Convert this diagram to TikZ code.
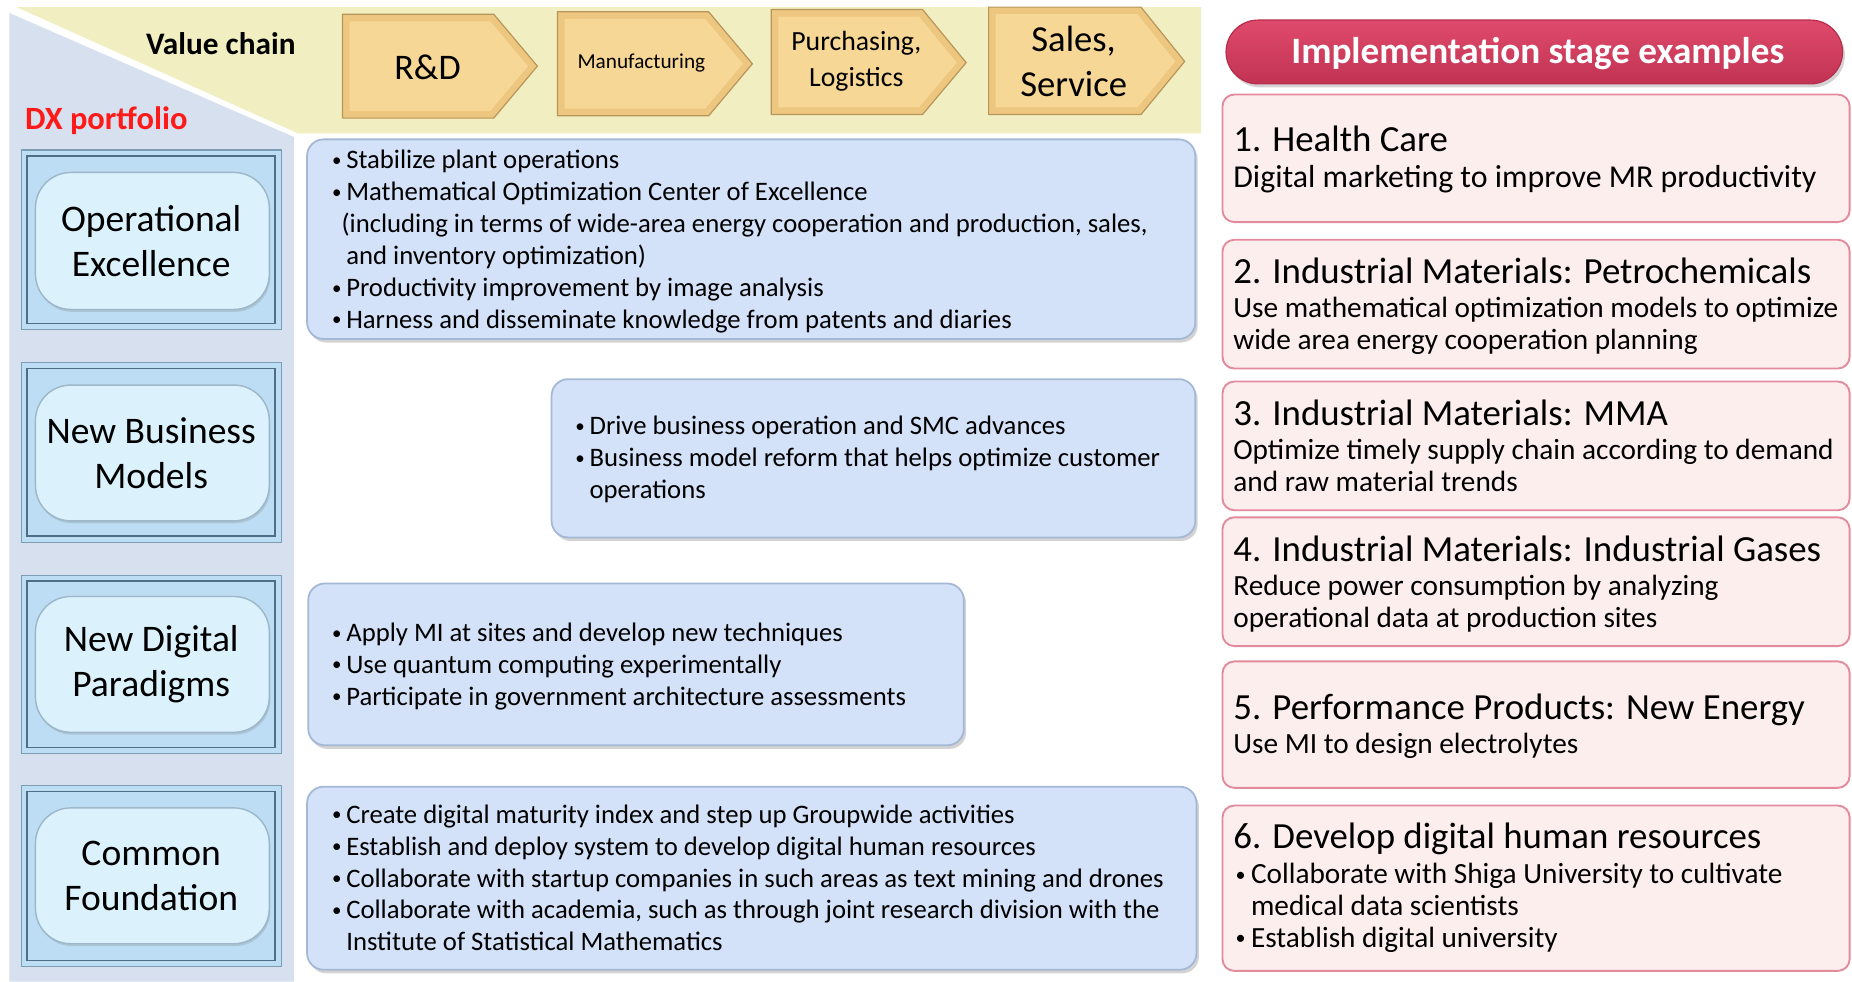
\documentclass[tikz,border=0pt]{standalone}
\usepackage{fontspec}
\setmainfont{Carlito}
\usetikzlibrary{shadows}
\definecolor{bgyellow}{HTML}{F1EEC2}
\definecolor{bgblue}{HTML}{D6E0EE}
\definecolor{tanfill}{HTML}{F7D796}
\definecolor{tanedge}{HTML}{EDC67F}
\definecolor{tanline}{HTML}{B8955A}
\definecolor{framefill}{HTML}{BCDDF4}
\definecolor{frameline}{HTML}{7D9DB5}
\definecolor{framedark}{HTML}{4F6D85}
\definecolor{pillfill}{HTML}{DBF2FD}
\definecolor{pillline}{HTML}{9DB7C9}
\definecolor{boxfill}{HTML}{D3E2F8}
\definecolor{boxline}{HTML}{A4B8D6}
\definecolor{redpill}{HTML}{DC3A5E}
\definecolor{redline}{HTML}{B72C4C}
\definecolor{pinkfill}{HTML}{FDEEEE}
\definecolor{pinkline}{HTML}{E38A9C}
\definecolor{dxred}{HTML}{FF1A1A}
\newcommand\bodyfont{\fontsize{22.6}{27}\selectfont}
\newcommand\rbodyfont{\fontsize{24.8}{27}\selectfont}
\newcommand\titlefont{\fontsize{31.2}{34}\selectfont}
\newcommand\bul{\makebox[12pt][l]{\raisebox{2pt}{\fontsize{16}{16}\selectfont•}}}
\newcommand\Tl[4]{\node[anchor=base west, inner sep=0pt, font=\bodyfont] (#1) at (#2,#3) {#4};}
\newcommand\Rl[4]{\node[anchor=base west, inner sep=0pt, font=\rbodyfont] (#1) at (#2,#3) {#4};}
\newcommand\Rt[4]{\node[anchor=base west, inner sep=0pt, font=\titlefont] (#1) at (#2,#3) {#4};}
\tikzset{
  contentbox/.style={fill=boxfill, draw=boxline, line width=1.5pt, rounded corners=14pt,
    drop shadow={opacity=0.35, shadow xshift=2pt, shadow yshift=-3pt}},
  pinkbox/.style={fill=pinkfill, draw=pinkline, line width=1.6pt, rounded corners=10pt},
  frameout/.style={fill=framefill, draw=frameline, line width=1pt},
  framein/.style={draw=framedark, line width=1.3pt},
  pill/.style={fill=pillfill, draw=pillline, line width=1.2pt, rounded corners=30pt,
    drop shadow={opacity=0.25, shadow xshift=1pt, shadow yshift=-2pt}},
  pilltext/.style={align=center, font=\fontsize{31.8}{38}\selectfont},
  arrowout/.style={fill=tanedge, draw=tanline, line width=1pt},
  arrowin/.style={fill=tanfill},
}
\begin{document}
\begin{tikzpicture}[x=1pt,y=-1pt]
\useasboundingbox (0,0) rectangle (1568,831);
% backgrounds
\fill[bgblue] (8,11) -- (249,116) -- (249,831) -- (8,831) -- cycle;
\fill[bgyellow] (14,6) -- (1017,6) -- (1017,113) -- (252,113) -- cycle;
\draw[white, line width=3pt] (8,9) -- (251,114);
% value chain arrows
\draw[arrowout] (290,12) -- (418,12) -- (455,56) -- (418,100) -- (290,100) -- cycle;
\fill[arrowin] (296,18) -- (415,18) -- (447,56) -- (415,94) -- (296,94) -- cycle;
\draw[arrowout] (472,10) -- (600,10) -- (637,54) -- (600,98) -- (472,98) -- cycle;
\fill[arrowin] (478,16) -- (597,16) -- (629,54) -- (597,92) -- (478,92) -- cycle;
\draw[arrowout] (653,8) -- (781,8) -- (818,53) -- (781,97) -- (653,97) -- cycle;
\fill[arrowin] (659,14) -- (778,14) -- (810,53) -- (778,91) -- (659,91) -- cycle;
\draw[arrowout] (837,6) -- (966,6) -- (1003,52) -- (966,97) -- (837,97) -- cycle;
\fill[arrowin] (843,12) -- (963,12) -- (995,52) -- (963,91) -- (843,91) -- cycle;
\node[font=\fontsize{30.5}{36}\selectfont] (rd) at (362,57) {R\&D};
\node[font=\fontsize{18}{22}\selectfont] (mf) at (543,53) {Manufacturing};
\node[align=center, font=\fontsize{23.5}{30}\selectfont] (pl) at (725,52) {Purchasing,\\Logistics};
\node[align=center, font=\fontsize{31}{38}\selectfont] (ss) at (909,52) {Sales,\\Service};
\node[font=\bfseries\fontsize{26.5}{30}\selectfont] (vc) at (187,37) {Value chain};
\node[font=\bfseries\fontsize{27.5}{30}\selectfont, text=dxred] (dx) at (90,102) {DX portfolio};
% left portfolio frames
\foreach \yt/\yb/\pt/\pb/\nm/\txt in {127/279/146/262/oe/{Operational\\Excellence},
  307/459/326/441/nbm/{New Business\\Models},
  487/638/505/620/ndp/{New Digital\\Paradigms},
  665/818/684/799/cf/{Common\\Foundation}}{
  \draw[frameout] (18,\yt) rectangle (238,\yb);
  \draw[framein] (23,\yt+5) rectangle (233,\yb-5);
  \draw[pill] (30,\pt) rectangle (228,\pb);
  \node[pilltext] (\nm) at (128,{(\pt+\pb)/2}) {\txt};
}
% content boxes
\draw[contentbox] (260,118) rectangle (1012,287);
\draw[contentbox] (467,321) rectangle (1012,455);
\draw[contentbox] (261,494) rectangle (816,631);
\draw[contentbox] (260,666) rectangle (1013,821);
\Tl{a1}{281}{143}{\bul Stabilize plant operations}
\Tl{a2}{281}{170}{\bul Mathematical Optimization Center of Excellence}
\Tl{a3}{289}{197}{(including in terms of wide-area energy cooperation and production, sales,}
\Tl{a4}{293}{224}{and inventory optimization)}
\Tl{a5}{281}{251}{\bul Productivity improvement by image analysis}
\Tl{a6}{281}{278}{\bul Harness and disseminate knowledge from patents and diaries}
\Tl{b1}{487}{368}{\bul Drive business operation and SMC advances}
\Tl{b2}{487}{395}{\bul Business model reform that helps optimize customer}
\Tl{b3}{499}{422}{operations}
\Tl{c1}{281}{543}{\bul Apply MI at sites and develop new techniques}
\Tl{c2}{281}{570}{\bul Use quantum computing experimentally}
\Tl{c3}{281}{597}{\bul Participate in government architecture assessments}
\Tl{d1}{281}{697}{\bul Create digital maturity index and step up Groupwide activities}
\Tl{d2}{281}{724}{\bul Establish and deploy system to develop digital human resources}
\Tl{d3}{281}{751}{\bul Collaborate with startup companies in such areas as text mining and drones}
\Tl{d4}{281}{778}{\bul Collaborate with academia, such as through joint research division with the}
\Tl{d5}{293}{805}{Institute of Statistical Mathematics}
% right side
\draw[top color=redpill!92!white, bottom color=redpill!88!black, draw=redline, line width=1pt, rounded corners=27pt,
  drop shadow={opacity=0.35, shadow xshift=2pt, shadow yshift=-3pt}] (1038,17) rectangle (1560,71);
\node[font=\bfseries\fontsize{31.5}{34}\selectfont, text=white] (hdr) at (1302,45) {Implementation stage examples};
\draw[pinkbox] (1035,80) rectangle (1566,188);
\draw[pinkbox] (1035,203) rectangle (1566,312);
\draw[pinkbox] (1035,323) rectangle (1566,432);
\draw[pinkbox] (1035,438) rectangle (1566,547);
\draw[pinkbox] (1035,560) rectangle (1566,667);
\draw[pinkbox] (1035,682) rectangle (1566,822);
\Rt{r1t}{1044}{128}{1. Health Care}
\node[anchor=base west, inner sep=0pt, font=\fontsize{27}{30}\selectfont] (r1a) at (1044,159) {Digital marketing to improve MR productivity};
\Rt{r2t}{1044}{240}{2. Industrial Materials: Petrochemicals}
\Rl{r2a}{1044}{269}{Use mathematical optimization models to optimize}
\Rl{r2b}{1044}{296}{wide area energy cooperation planning}
\Rt{r3t}{1044}{360}{3. Industrial Materials: MMA}
\Rl{r3a}{1044}{389}{Optimize timely supply chain according to demand}
\Rl{r3b}{1044}{416}{and raw material trends}
\Rt{r4t}{1044}{475}{4. Industrial Materials: Industrial Gases}
\Rl{r4a}{1044}{504}{Reduce power consumption by analyzing}
\Rl{r4b}{1044}{531}{operational data at production sites}
\Rt{r5t}{1044}{609}{5. Performance Products: New Energy}
\Rl{r5a}{1044}{638}{Use MI to design electrolytes}
\Rt{r6t}{1044}{718}{6. Develop digital human resources}
\Rl{r6a}{1046}{748}{\makebox[13pt][l]{\raisebox{2pt}{\fontsize{17}{17}\selectfont•}}Collaborate with Shiga University to cultivate}
\Rl{r6b}{1059}{775}{medical data scientists}
\Rl{r6c}{1046}{802}{\makebox[13pt][l]{\raisebox{2pt}{\fontsize{17}{17}\selectfont•}}Establish digital university}
\end{tikzpicture}
\end{document}
